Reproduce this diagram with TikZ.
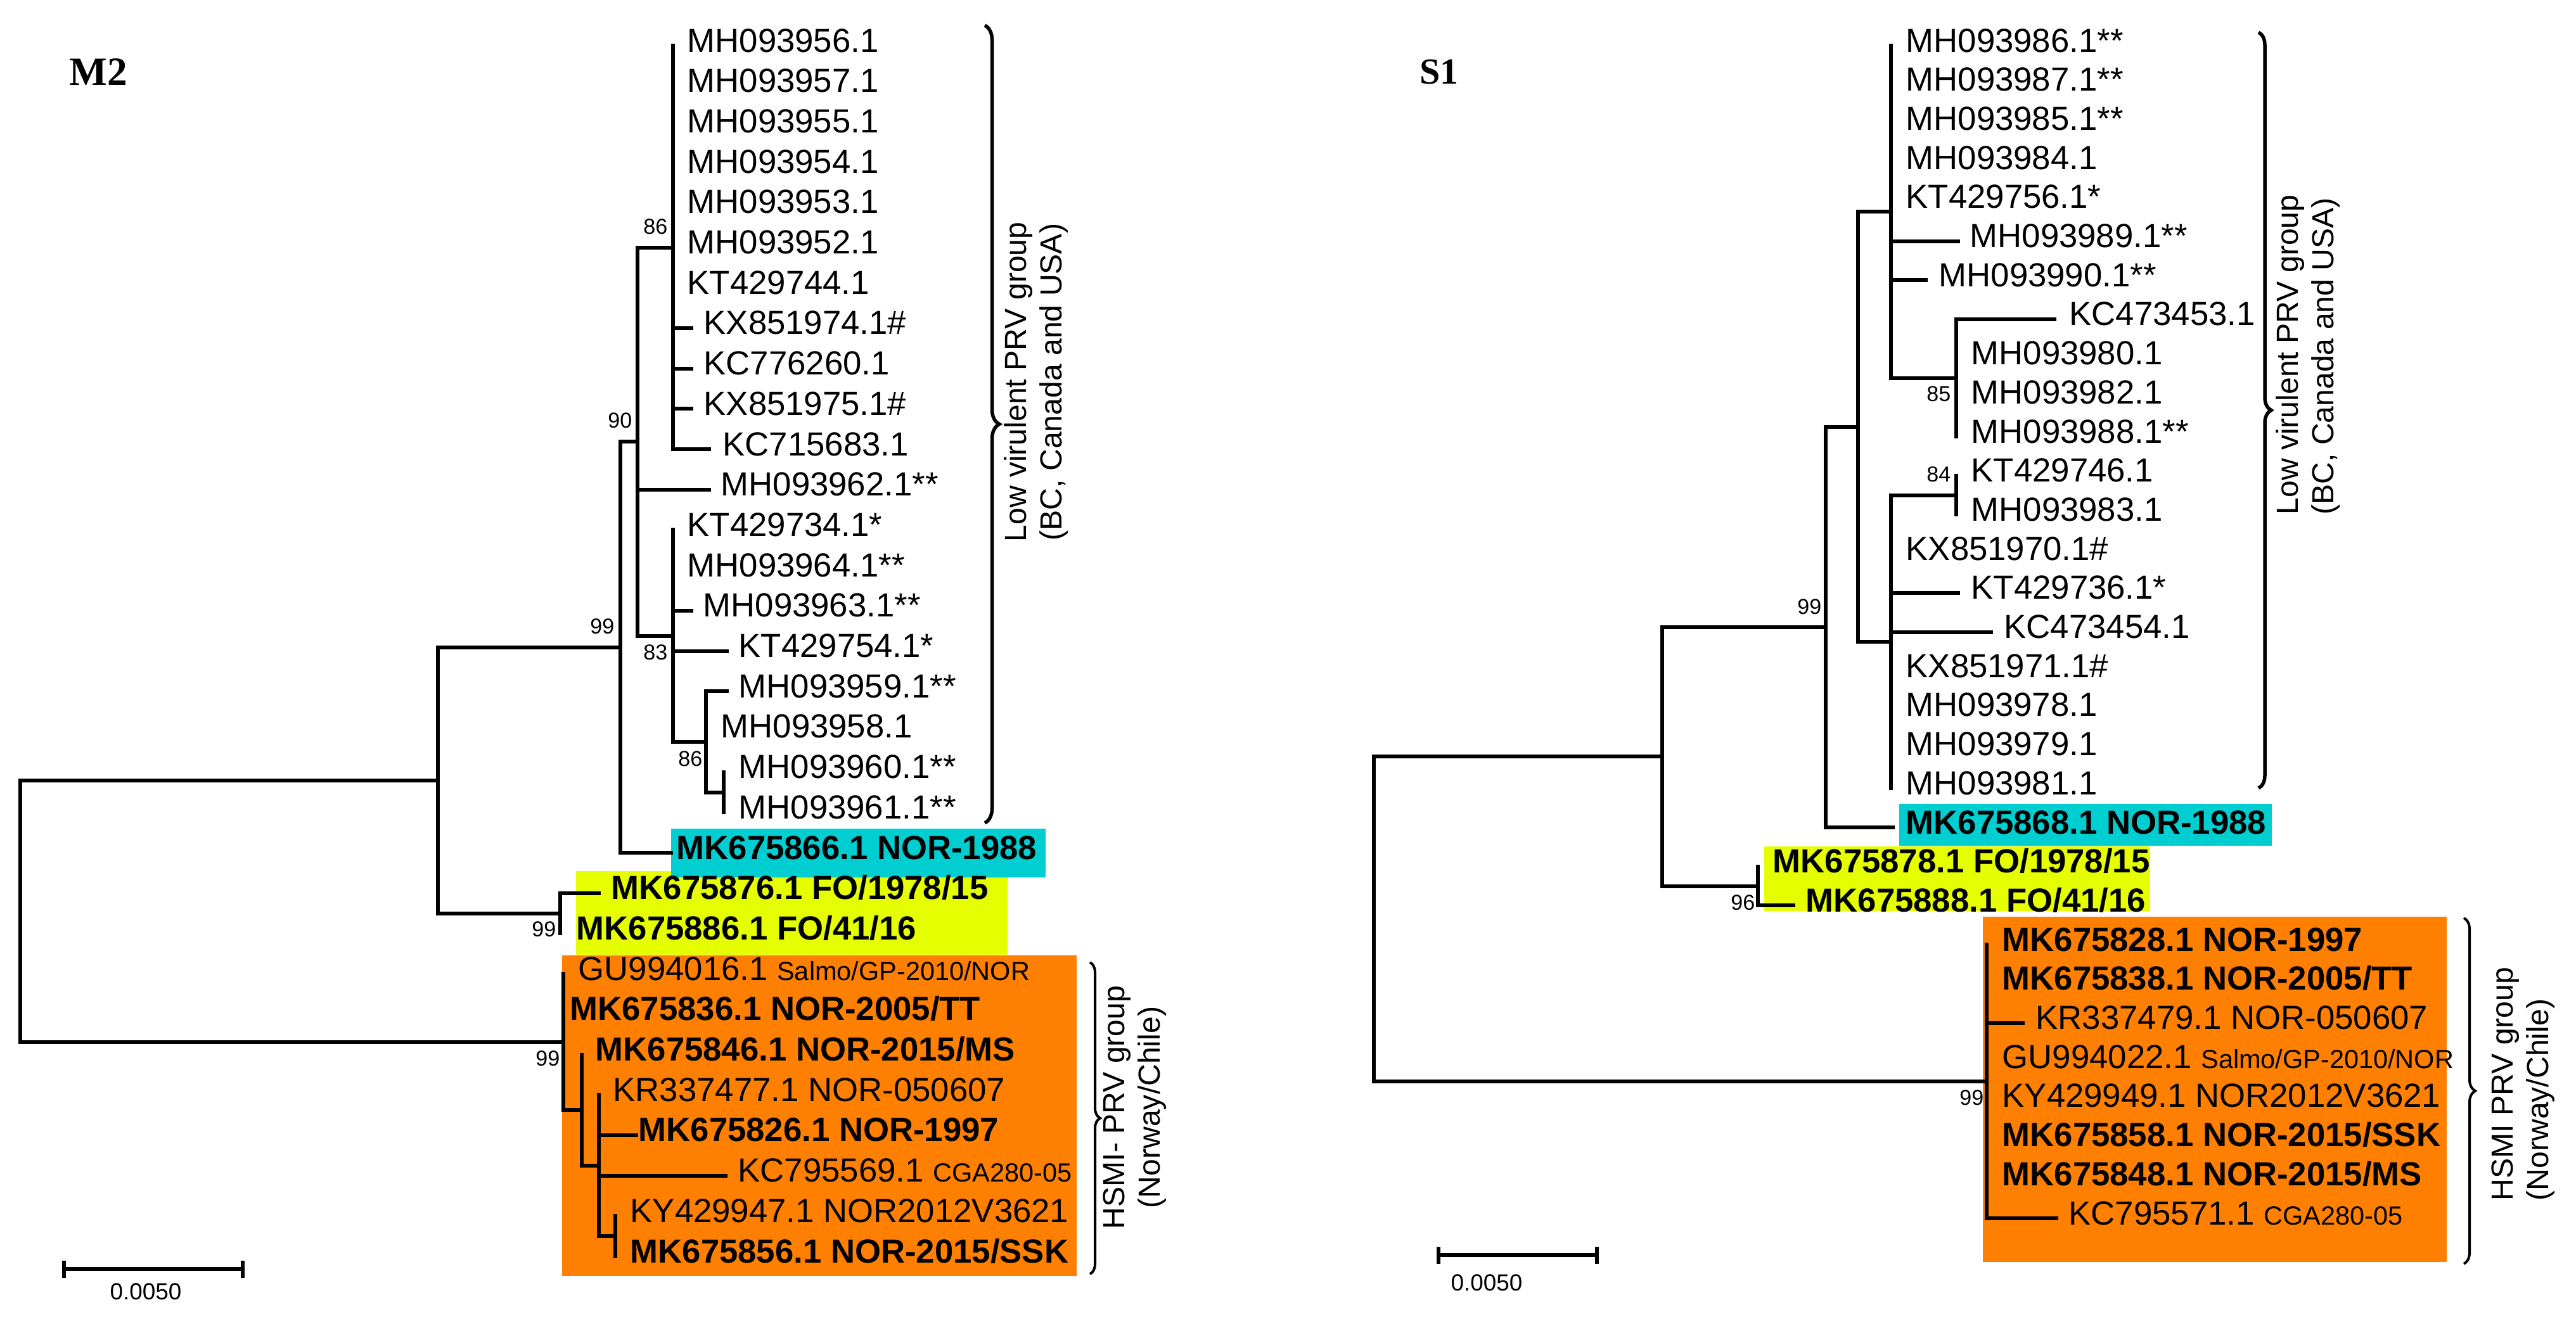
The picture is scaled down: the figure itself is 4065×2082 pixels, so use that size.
\documentclass[tikz,border=0pt]{standalone}
\usepackage{fontspec}
\setmainfont{Liberation Sans}
\newfontfamily\panelfont{Liberation Serif}
\usetikzlibrary{positioning,decorations.pathreplacing,arrows.meta}
\definecolor{norcyan}{RGB}{0,206,209}
\definecolor{foyellow}{RGB}{229,255,0}
\definecolor{hsmiorange}{RGB}{255,128,0}
\newcommand{\rowM}[1]{72+63.7*#1}
\newcommand{\rowS}[1]{72+61.7*#1}
\newcommand{\tagtext}[1]{{\fontsize{11.8}{13}\selectfont #1}}
\tikzset{
    branch/.style = {line width=0.6mm, line cap=rect},
    leaf-label/.style = {inner sep=0pt, anchor=base west, font=\fontsize{15}{18}\selectfont},
    boot-label/.style = {inner sep=0pt, font=\fontsize{9.7}{11}\selectfont},
    group-brace/.style = {decorate, decoration={brace, amplitude=#1}, line width=0.55mm},
    group-label/.style = {rotate=90, inner sep=0pt, font=\fontsize{13.7}{16}\selectfont},
    panel-label/.style = {inner sep=0pt, font=\panelfont\bfseries\fontsize{#1}{20}\selectfont},
    scale-bar/.style = {line width=0.6mm, arrows={Bar[width=2.7mm]-Bar[width=2.7mm]}},
    scale-label/.style = {inner sep=0pt, anchor=north, font=\fontsize{10.5}{12}\selectfont},
}
\begin{document}
\begin{tikzpicture}[x=0.1mm, y=-0.1mm]
\fill[white] (0,0) rectangle (4065,2082);
\useasboundingbox (0,0) rectangle (4065,2082);

\fill[foyellow] (909,1375) rectangle (1590,1507);
\fill[norcyan] (1059,1308) rectangle (1650,1385);
\fill[hsmiorange] (887,1508) rectangle (1699,2014);
\fill[foyellow] (2784,1336) rectangle (3393,1438);
\fill[norcyan] (2997,1269) rectangle (3585,1335);
\fill[hsmiorange] (3129,1447) rectangle (3861,1992);

\node[panel-label=18] (m2-title) at (155,114) {M2};
\coordinate (m2-root) at (32,1438);
\coordinate (m2-x) at (691,1231.5);
\coordinate (m2-99a) at (979,1021.5);
\coordinate (m2-90) at (1006,697);
\coordinate (m2-86a) at (1062,390.5);
\coordinate (m2-83) at (1062,1003.6);
\coordinate (m2-86b) at (1114,1170.8);
\coordinate (m2-in) at (1142,1250.5);
\coordinate (m2-fo) at (884,1441.6);
\coordinate (m2-h) at (889,1644.6);
\coordinate (m2-a) at (918,1752);
\coordinate (m2-b) at (945,1839.6);
\coordinate (m2-c) at (971,1951);

\foreach \rw/\tx/\lx/\pa/\lab in {
    0/1062/1084/m2-86a/{MH093956.1},
    1/1062/1084/m2-86a/{MH093957.1},
    2/1062/1084/m2-86a/{MH093955.1},
    3/1062/1084/m2-86a/{MH093954.1},
    4/1062/1084/m2-86a/{MH093953.1},
    5/1062/1084/m2-86a/{MH093952.1},
    6/1062/1084/m2-86a/{KT429744.1},
    7/1091/1110/m2-86a/{KX851974.1\#},
    8/1091/1110/m2-86a/{KC776260.1},
    9/1091/1110/m2-86a/{KX851975.1\#},
    10/1119/1140/m2-86a/{KC715683.1},
    11/1119/1137/m2-90/{MH093962.1**},
    12/1062/1084/m2-83/{KT429734.1*},
    13/1062/1084/m2-83/{MH093964.1**},
    14/1091/1109/m2-83/{MH093963.1**},
    15/1147/1165/m2-83/{KT429754.1*},
    16/1147/1165/m2-86b/{MH093959.1**},
    17/1114/1137/m2-86b/{MH093958.1},
    18/1142/1165/m2-in/{MH093960.1**},
    19/1142/1165/m2-in/{MH093961.1**},
    20/1059/1067/m2-99a/{\bfseries MK675866.1 NOR-1988},
    21/945/964/m2-fo/{\bfseries MK675876.1 FO/1978/15},
    22/884/909/m2-fo/{\bfseries MK675886.1 FO/41/16},
    23/889/912/m2-h/{GU994016.1 \tagtext{Salmo/GP-2010/NOR}},
    24/889/899/m2-h/{\bfseries MK675836.1 NOR-2005/TT},
    25/918/939/m2-a/{\bfseries MK675846.1 NOR-2015/MS},
    26/945/967/m2-b/{KR337477.1 NOR-050607},
    27/1004/1007/m2-b/{\bfseries MK675826.1 NOR-1997},
    28/1145/1164/m2-b/{KC795569.1 \tagtext{CGA280-05}},
    29/971/994/m2-c/{KY429947.1 NOR2012V3621},
    30/971/994/m2-c/{\bfseries MK675856.1 NOR-2015/SSK}} {
    \coordinate (m2-t\rw) at (\tx,{\rowM{\rw}});
    \draw[branch] (\pa |- m2-t\rw) -- (m2-t\rw);
    \node[leaf-label] (m2-l\rw) at (\lx,{\rowM{\rw}+10}) {\lab};
}
\foreach \nd/\pa/\hi/\lo in {m2-x/m2-root/m2-99a/m2-fo, m2-99a/m2-x/m2-90/m2-t20,
    m2-90/m2-99a/m2-86a/m2-83, m2-86a/m2-90/m2-t0/m2-t10, m2-83/m2-90/m2-t12/m2-86b,
    m2-86b/m2-83/m2-t16/m2-in, m2-in/m2-86b/m2-t18/m2-t19, m2-fo/m2-x/m2-t21/m2-t22,
    m2-h/m2-root/m2-t23/m2-a, m2-a/m2-h/m2-t25/m2-b, m2-b/m2-a/m2-t26/m2-c,
    m2-c/m2-b/m2-t29/m2-t30}
    \draw[branch] (\pa |- \nd) -- (\nd) (\nd |- \hi) -- (\nd |- \lo);
\draw[branch] (m2-root |- m2-x) -- (m2-root |- m2-h);

\node[boot-label, above left=2mm and 0.8mm of m2-86a] (m2-bs86a) {86};
\node[boot-label, above left=2mm and 0.8mm of m2-90] (m2-bs90) {90};
\node[boot-label, above left=2mm and 0.9mm of m2-99a] (m2-bs99a) {99};
\node[boot-label, below left=1.3mm and 0.8mm of m2-83] (m2-bs83) {83};
\node[boot-label, below left=1.4mm and 0.5mm of m2-86b] (m2-bs86b) {86};
\node[boot-label, below left=1.2mm and 0.6mm of m2-fo] (m2-bsfo) {99};
\node[boot-label, below left=1.3mm and 0.5mm of m2-h] (m2-bsh) {99};

\draw[group-brace=2.3mm] (1554,40) -- (1554,1299);
\node[group-label, align=center] (m2-low) at (1635,603) {Low virulent PRV group\\(BC, Canada and USA)};
\draw[group-brace=1.6mm, line width=0.4mm] (1720,1519) -- (1720,2011);
\node[group-label, align=center] (m2-hsmi) at (1791,1748) {HSMI- PRV group\\(Norway/Chile)};

\coordinate (m2-bar-a) at (98,2003);
\coordinate (m2-bar-b) at (386,2003);
\draw[scale-bar] (m2-bar-a) -- (m2-bar-b);
\node[scale-label] (m2-bar-txt) at (230,2025) {0.0050};

\node[panel-label=16.5] (s1-title) at (2271,114) {S1};
\coordinate (s1-root) at (2168,1450.6);
\coordinate (s1-t) at (2623,1194.2);
\coordinate (s1-99) at (2881,989.8);
\coordinate (s1-q) at (2932,673.5);
\coordinate (s1-p) at (2984,334.2);
\coordinate (s1-85) at (3087,596.5);
\coordinate (s1-r) at (2984,1013);
\coordinate (s1-84) at (3087,781.6);
\coordinate (s1-fo) at (2774,1398.6);
\coordinate (s1-h) at (3135,1707);

\foreach \rw/\tx/\lx/\pa/\lab in {
    0/2984/3007/s1-p/{MH093986.1**},
    1/2984/3007/s1-p/{MH093987.1**},
    2/2984/3007/s1-p/{MH093985.1**},
    3/2984/3007/s1-p/{MH093984.1},
    4/2984/3007/s1-p/{KT429756.1*},
    5/3090/3108/s1-p/{MH093989.1**},
    6/3039/3059/s1-p/{MH093990.1**},
    7/3242/3265/s1-85/{KC473453.1},
    8/3087/3110/s1-85/{MH093980.1},
    9/3087/3110/s1-85/{MH093982.1},
    10/3087/3110/s1-85/{MH093988.1**},
    11/3087/3110/s1-84/{KT429746.1},
    12/3087/3110/s1-84/{MH093983.1},
    13/2984/3007/s1-r/{KX851970.1\#},
    14/3090/3110/s1-r/{KT429736.1*},
    15/3142/3162/s1-r/{KC473454.1},
    16/2984/3007/s1-r/{KX851971.1\#},
    17/2984/3007/s1-r/{MH093978.1},
    18/2984/3007/s1-r/{MH093979.1},
    19/2984/3007/s1-r/{MH093981.1},
    20/2987/3007/s1-99/{\bfseries MK675868.1 NOR-1988},
    21/2774/2797/s1-fo/{\bfseries MK675878.1 FO/1978/15},
    22/2830/2849/s1-fo/{\bfseries MK675888.1 FO/41/16},
    23/3135/3159/s1-h/{\bfseries MK675828.1 NOR-1997},
    24/3135/3159/s1-h/{\bfseries MK675838.1 NOR-2005/TT},
    25/3192/3212/s1-h/{KR337479.1 NOR-050607},
    26/3135/3159/s1-h/{GU994022.1 \tagtext{Salmo/GP-2010/NOR}},
    27/3135/3159/s1-h/{KY429949.1 NOR2012V3621},
    28/3135/3159/s1-h/{\bfseries MK675858.1 NOR-2015/SSK},
    29/3135/3159/s1-h/{\bfseries MK675848.1 NOR-2015/MS},
    30/3245/3264/s1-h/{KC795571.1 \tagtext{CGA280-05}}} {
    \coordinate (s1-t\rw) at (\tx,{\rowS{\rw}});
    \draw[branch] (\pa |- s1-t\rw) -- (s1-t\rw);
    \node[leaf-label] (s1-l\rw) at (\lx,{\rowS{\rw}+10}) {\lab};
}
\foreach \nd/\pa/\hi/\lo in {s1-t/s1-root/s1-99/s1-fo, s1-99/s1-t/s1-q/s1-t20,
    s1-q/s1-99/s1-p/s1-r, s1-p/s1-q/s1-t0/s1-85, s1-85/s1-p/s1-t7/s1-t10,
    s1-r/s1-q/s1-84/s1-t19, s1-84/s1-r/s1-t11/s1-t12, s1-fo/s1-t/s1-t21/s1-t22,
    s1-h/s1-root/s1-t23/s1-t30}
    \draw[branch] (\pa |- \nd) -- (\nd) (\nd |- \hi) -- (\nd |- \lo);
\draw[branch] (s1-root |- s1-t) -- (s1-root |- s1-h);

\node[boot-label, below left=1.25mm and 0.8mm of s1-85] (s1-bs85) {85};
\node[boot-label, above left=2mm and 0.8mm of s1-84] (s1-bs84) {84};
\node[boot-label, above left=1.9mm and 0.6mm of s1-99] (s1-bs99) {99};
\node[boot-label, below left=1.3mm and 0.4mm of s1-fo] (s1-bsfo) {96};
\node[boot-label, below left=1.3mm and 0.4mm of s1-h] (s1-bsh) {99};

\draw[group-brace=2mm] (3564,51) -- (3564,1244);
\node[group-label, align=left] (s1-low) at (3642,560) {Low virulent PRV group\\(BC, Canada and USA)};
\draw[group-brace=1.8mm, line width=0.4mm] (3888,1449) -- (3888,1995);
\node[group-label, align=left] (s1-hsmi) at (3982,1711) {HSMI PRV group\\(Norway/Chile)};

\coordinate (s1-bar-a) at (2267,1981);
\coordinate (s1-bar-b) at (2523,1981);
\draw[scale-bar] (s1-bar-a) -- (s1-bar-b);
\node[scale-label] (s1-bar-txt) at (2346,2011) {0.0050};
\end{tikzpicture}
\end{document}
